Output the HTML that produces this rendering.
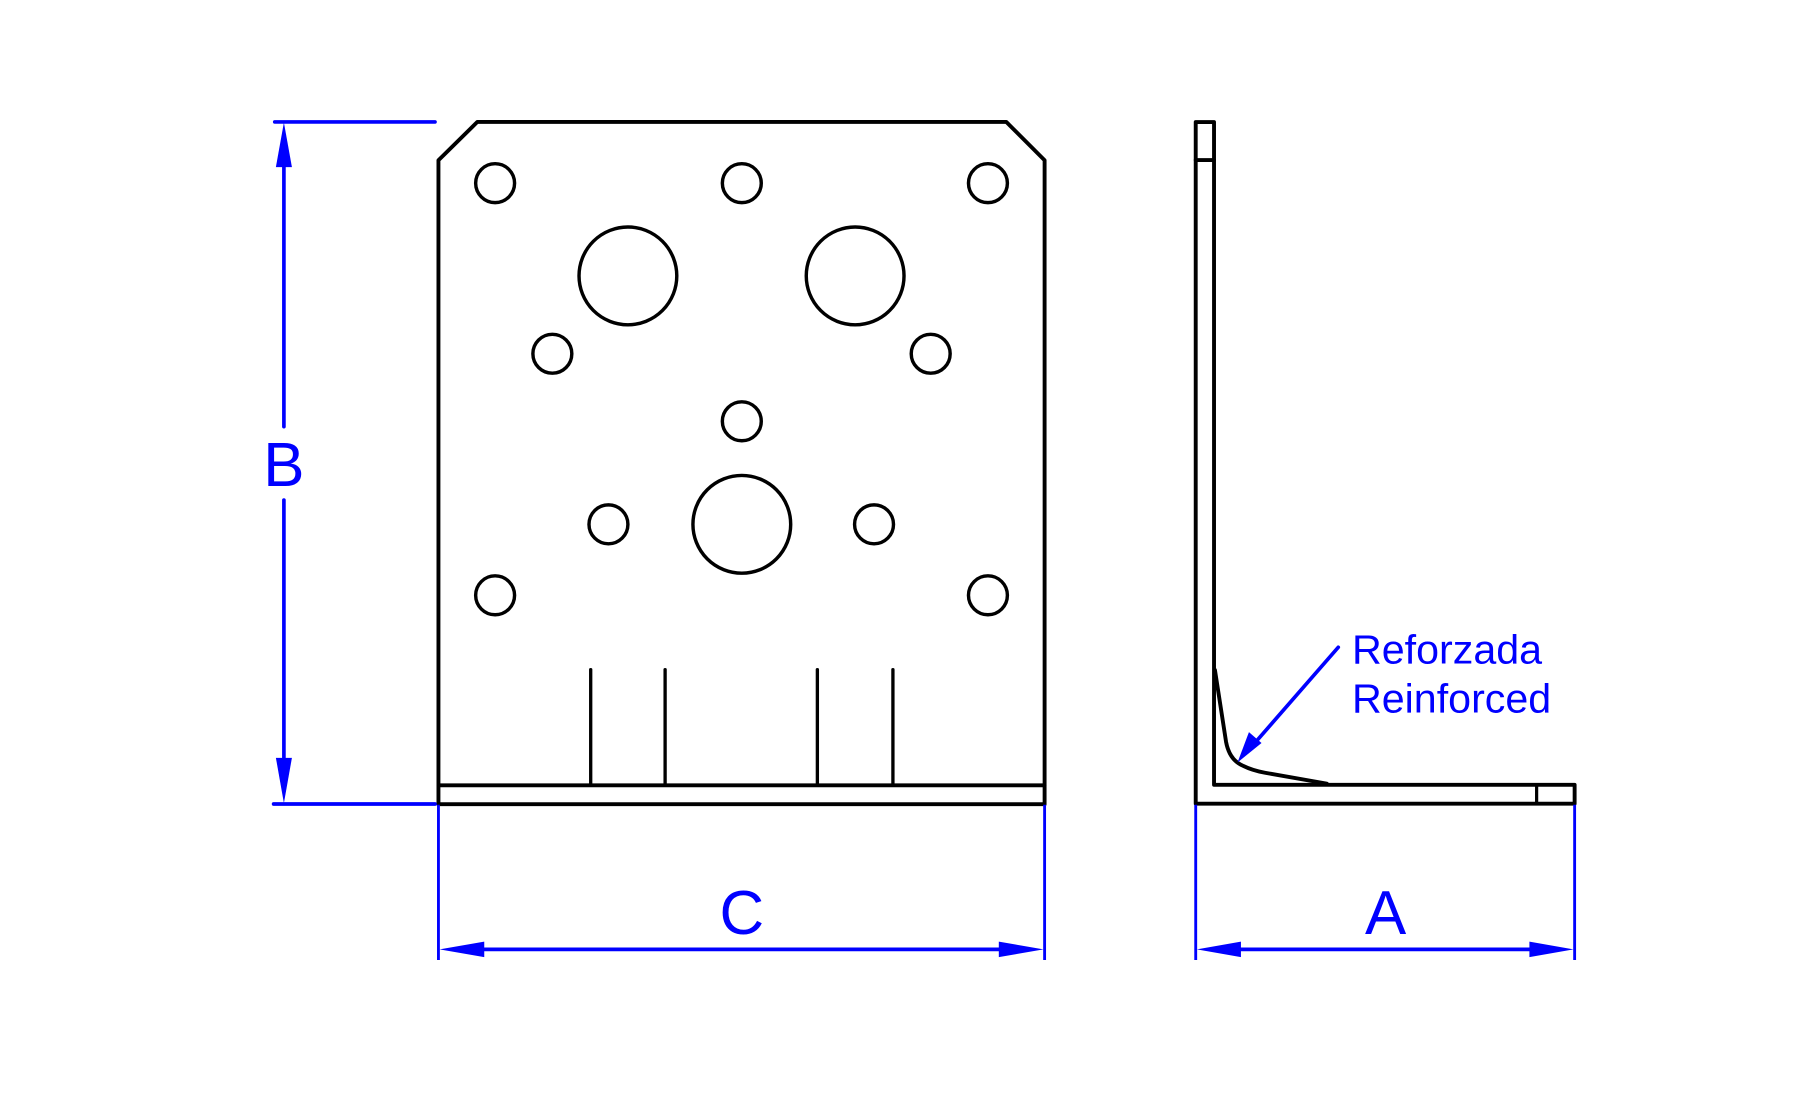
<!DOCTYPE html>
<html>
<head>
<meta charset="utf-8">
<style>
  html, body { margin: 0; padding: 0; background: #ffffff; }
  body { width: 1795px; height: 1110px; overflow: hidden; }
  svg { display: block; }
  text { font-family: "Liberation Sans", Arial, sans-serif; fill: #0000ff; }
</style>
</head>
<body>
<svg width="1795" height="1110" viewBox="0 0 1568 969.6" preserveAspectRatio="none" xmlns="http://www.w3.org/2000/svg">
  <rect x="0" y="0" width="1568" height="969.6" fill="#ffffff"/>

  <!-- ===== Front view plate ===== -->
  <g fill="none" stroke="#000" stroke-width="3.4" stroke-linejoin="round" stroke-linecap="round">
    <path d="M417,106.5 L879,106.5 L912.5,140 L912.5,702.5 L383,702.5 L383,140 Z"/>
    <line x1="383" y1="686" x2="912.5" y2="686"/>
    <!-- ribs -->
    <line x1="516" y1="585" x2="516" y2="686" stroke-width="2.9"/>
    <line x1="581" y1="585" x2="581" y2="686" stroke-width="2.9"/>
    <line x1="714" y1="585" x2="714" y2="686" stroke-width="2.9"/>
    <line x1="780" y1="585" x2="780" y2="686" stroke-width="2.9"/>
  </g>
  <g fill="none" stroke="#000" stroke-width="3">
    <!-- small holes -->
    <circle cx="432.5" cy="160" r="17"/>
    <circle cx="648" cy="160" r="17"/>
    <circle cx="863" cy="160" r="17"/>
    <circle cx="482.5" cy="309" r="17"/>
    <circle cx="813" cy="309" r="17"/>
    <circle cx="648" cy="368" r="17"/>
    <circle cx="531.5" cy="458" r="17"/>
    <circle cx="763.5" cy="458" r="17"/>
    <circle cx="432.5" cy="520" r="17"/>
    <circle cx="863" cy="520" r="17"/>
    <!-- large holes -->
    <circle cx="548.5" cy="241" r="42.7"/>
    <circle cx="747" cy="241" r="42.7"/>
    <circle cx="648" cy="458" r="42.7"/>
  </g>

  <!-- ===== Side view ===== -->
  <g fill="none" stroke="#000" stroke-width="3.4" stroke-linejoin="round" stroke-linecap="round">
    <path d="M1044.5,702 L1044.5,106.6 L1060.5,106.6 L1060.5,685.5 L1375.5,685.5 L1375.5,702 Z"/>
    <line x1="1044.5" y1="139.8" x2="1060.5" y2="139.8"/>
    <line x1="1342.3" y1="685.5" x2="1342.3" y2="702" stroke-width="2.8"/>
    <path d="M1061.3,585.3 L1071,648 Q1074,664 1086,669 Q1094,673 1105,675 L1159,684.5"/>
  </g>

  <!-- ===== Dimension B ===== -->
  <g stroke="#0000ff" fill="none" stroke-linecap="round">
    <line x1="240" y1="106.5" x2="380" y2="106.5" stroke-width="3.2"/>
    <line x1="239" y1="702.3" x2="380" y2="702.3" stroke-width="3.2"/>
    <line x1="248" y1="140" x2="248" y2="372.7" stroke-width="3.2"/>
    <line x1="248" y1="436.8" x2="248" y2="665" stroke-width="3.2"/>
  </g>
  <polygon points="248,107 241,146 255,146" fill="#0000ff"/>
  <polygon points="248,701.5 241,662 255,662" fill="#0000ff"/>
  <text x="248" y="424.5" font-size="54" text-anchor="middle">B</text>

  <!-- ===== Dimension C ===== -->
  <g stroke="#0000ff" fill="none" stroke-linecap="butt">
    <line x1="383" y1="703" x2="383" y2="838.6" stroke-width="2.5"/>
    <line x1="912.5" y1="703" x2="912.5" y2="838.6" stroke-width="2.5"/>
    <line x1="415" y1="829.3" x2="880" y2="829.3" stroke-width="3.2"/>
  </g>
  <polygon points="384,829.3 423,822.5 423,836.1" fill="#0000ff"/>
  <polygon points="911.5,829.3 872.5,822.5 872.5,836.1" fill="#0000ff"/>
  <text x="648" y="815.9" font-size="54" text-anchor="middle">C</text>

  <!-- ===== Dimension A ===== -->
  <g stroke="#0000ff" fill="none" stroke-linecap="butt">
    <line x1="1044.5" y1="703" x2="1044.5" y2="838.6" stroke-width="2.5"/>
    <line x1="1375.5" y1="703" x2="1375.5" y2="838.6" stroke-width="2.5"/>
    <line x1="1075" y1="829.3" x2="1345" y2="829.3" stroke-width="3.2"/>
  </g>
  <polygon points="1045.5,829.3 1084,822.5 1084,836.1" fill="#0000ff"/>
  <polygon points="1374.5,829.3 1336,822.5 1336,836.1" fill="#0000ff"/>
  <text x="1210.4" y="815.9" font-size="54" text-anchor="middle">A</text>

  <!-- ===== Leader "Reforzada / Reinforced" ===== -->
  <line x1="1169" y1="565.4" x2="1097" y2="648" stroke="#0000ff" stroke-width="3.2" stroke-linecap="round"/>
  <polygon points="1081,666 1091,639.5 1102,649" fill="#0000ff"/>
  <text x="1181" y="579.4" font-size="36">Reforzada</text>
  <text x="1181" y="622.5" font-size="36">Reinforced</text>
</svg>
</body>
</html>
